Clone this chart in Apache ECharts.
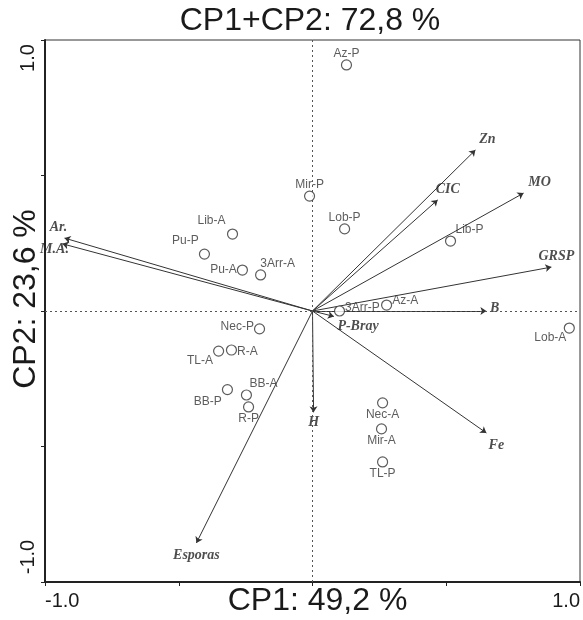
<!DOCTYPE html>
<html>
<head>
<meta charset="utf-8">
<script src="https://cdn.jsdelivr.net/npm/echarts@6/dist/echarts.min.js"></script>
<style>
  html, body { margin: 0; background: #fff; }
  #pca { width: 583px; height: 620px; }
</style>
</head>
<body>
<div id="pca"></div>
<script>
// sites (scores)
var siteNames = ['Az-P', 'Mir-P', 'Lob-P', 'Lib-A', 'Pu-P', 'Pu-A', '3Arr-A', 'Lib-P', '3Arr-P', 'Az-A',
                 'Lob-A', 'Nec-P', 'R-A', 'TL-A', 'BB-A', 'BB-P', 'R-P', 'Nec-A', 'Mir-A', 'TL-P'];
var siteCP1 = [0.127, -0.011, 0.120, -0.299, -0.404, -0.262, -0.194, 0.516, 0.101, 0.277,
               0.960, -0.198, -0.303, -0.351, -0.247, -0.318, -0.239, 0.262, 0.258, 0.262];
var siteCP2 = [0.908, 0.424, 0.303, 0.284, 0.210, 0.151, 0.133, 0.258, 0.000, 0.022,
               -0.063, -0.066, -0.144, -0.148, -0.310, -0.290, -0.354, -0.339, -0.435, -0.557];

// variables (loadings)
var varNames = ['Ar.', 'M.A.', 'Zn', 'CIC', 'MO', 'GRSP', 'B', 'P-Bray', 'H', 'Fe', 'Esporas'];
var varCP1 = [-0.927, -0.935, 0.609, 0.468, 0.789, 0.893, 0.650, 0.080, 0.004, 0.650, -0.434];
var varCP2 = [0.269, 0.248, 0.594, 0.410, 0.435, 0.162, 0.000, -0.020, -0.374, -0.450, -0.856];

var tickValues = [-1, 1];
var tickLabels = ['-1.0', '1.0'];

// where each label sits around its mark: [position, dx, dy]
var siteLabelPos = {
  'Az-P': ['top', 0, 2], 'Mir-P': ['top', 0, 2], 'Lob-P': ['top', 0, 2],
  'Lib-A': ['top', -21, 0], 'Pu-P': ['top', -19, 0], 'Pu-A': ['left', 2, 0],
  '3Arr-A': ['top', 17, 2], 'Lib-P': ['top', 19, 2], '3Arr-P': ['right', -2, -3],
  'Az-A': ['right', -2, -4], 'Lob-A': ['bottom', -19, -4], 'Nec-P': ['left', 2, -2],
  'R-A': ['right', -2, 2], 'TL-A': ['left', 2, 10], 'BB-A': ['top', 17, 2],
  'BB-P': ['left', 2, 12], 'R-P': ['bottom', 0, -2], 'Nec-A': ['bottom', 0, -2],
  'Mir-A': ['bottom', 0, -2], 'TL-P': ['bottom', 0, -2]
};
var varLabelPos = {
  'Ar.': ['top', -6, 0], 'M.A.': ['left', 10, 6], 'Zn': ['top', 12, 0], 'CIC': ['top', 10, 0],
  'MO': ['top', 16, 0], 'GRSP': ['top', 5, 0], 'B': ['right', 0, -3], 'P-Bray': ['right', 0, 10],
  'H': ['bottom', 0, 0], 'Fe': ['bottom', 10, 2], 'Esporas': ['bottom', 0, 2]
};

var chart = echarts.init(document.getElementById('pca'));

var siteData = siteNames.map(function (n, i) {
  var p = siteLabelPos[n];
  return { name: n, value: [siteCP1[i], siteCP2[i]],
           label: { position: p[0], offset: [p[1], p[2]] } };
});
var arrowData = varNames.map(function (n, i) {
  return { name: n, coords: [[0, 0], [varCP1[i], varCP2[i]]] };
});
var varLabelData = varNames.map(function (n, i) {
  var p = varLabelPos[n];
  return { name: n, value: [varCP1[i], varCP2[i]],
           label: { position: p[0], offset: [p[1], p[2]] } };
});

function tickFmt(v) {
  var k = tickValues.indexOf(v);
  return k < 0 ? '' : tickLabels[k];
}

var option = {
  animation: false,
  title: {
    text: 'CP1+CP2: 72,8 %',
    left: 305, top: 0, textAlign: 'center',
    textStyle: { fontFamily: 'Liberation Sans', fontSize: 32, fontWeight: 'normal', color: '#1a1a1a' }
  },
  grid: {
    left: 45, top: 40, width: 535, height: 542,
    outerBoundsMode: 'none', containLabel: false,
    show: true, borderColor: '#333', borderWidth: 1
  },
  xAxis: {
    type: 'value', min: -1, max: 1, interval: 0.5,
    name: 'CP1: 49,2 %', nameLocation: 'middle', nameGap: 3, nameMoveOverlap: false,
    nameTextStyle: { fontFamily: 'Liberation Sans', fontSize: 32, color: '#1a1a1a',
                     verticalAlign: 'top', padding: [0, 0, 0, 10] },
    axisLine: { onZero: false, lineStyle: { color: '#222', width: 2 } },
    axisTick: { length: 4, lineStyle: { color: '#222' } },
    splitLine: { show: false },
    axisLabel: {
      formatter: tickFmt, fontFamily: 'Liberation Sans', fontSize: 20, color: '#1a1a1a',
      margin: 9, showMinLabel: true, showMaxLabel: true,
      alignMinLabel: 'left', alignMaxLabel: 'right'
    }
  },
  yAxis: {
    type: 'value', min: -1, max: 1, interval: 0.5,
    name: 'CP2: 23,6 %', nameLocation: 'middle', nameGap: 3, nameMoveOverlap: false,
    nameTextStyle: { fontFamily: 'Liberation Sans', fontSize: 32, color: '#1a1a1a',
                     padding: [0, 0, 0, 24] },
    axisLine: { onZero: false, lineStyle: { color: '#222', width: 2 } },
    axisTick: { length: 4, lineStyle: { color: '#222' } },
    splitLine: { show: false },
    axisLabel: {
      rotate: 90, margin: 7, showMinLabel: true, showMaxLabel: true,
      formatter: function (v) {
        var t = tickFmt(v);
        if (!t) return '';
        return v > 0 ? '{hi|' + t + '}' : '{lo|' + t + '}';
      },
      rich: {
        hi: { fontFamily: 'Liberation Sans', fontSize: 20, color: '#1a1a1a', padding: [0, 36, 0, 0] },
        lo: { fontFamily: 'Liberation Sans', fontSize: 20, color: '#1a1a1a', padding: [0, 0, 0, 50] }
      }
    }
  },
  series: [
    {
      type: 'lines',
      coordinateSystem: 'cartesian2d',
      symbol: ['none', 'arrow'],
      symbolSize: 6,
      lineStyle: { color: '#333', width: 1, opacity: 1 },
      data: arrowData,
      z: 3
    },
    {
      type: 'scatter',
      symbol: 'circle',
      symbolSize: 1,
      itemStyle: { color: 'rgba(0,0,0,0)' },
      label: {
        show: true, formatter: '{b}', distance: 3,
        fontFamily: 'Liberation Serif', fontStyle: 'italic', fontWeight: 'bold',
        fontSize: 14, color: '#222'
      },
      data: varLabelData,
      z: 4
    },
    {
      type: 'scatter',
      symbol: 'circle',
      symbolSize: 10,
      itemStyle: { color: '#fff', borderColor: '#333', borderWidth: 1.2 },
      label: {
        show: true, formatter: '{b}', distance: 2,
        fontFamily: 'Liberation Sans', fontSize: 12, color: '#333'
      },
      data: siteData,
      markLine: {
        silent: true, symbol: 'none', label: { show: false },
        lineStyle: { color: '#555', type: [2, 3], width: 1 },
        data: [{ xAxis: 0 }, { yAxis: 0 }]
      },
      z: 5
    }
  ]
};

chart.setOption(option);
</script>
</body>
</html>
